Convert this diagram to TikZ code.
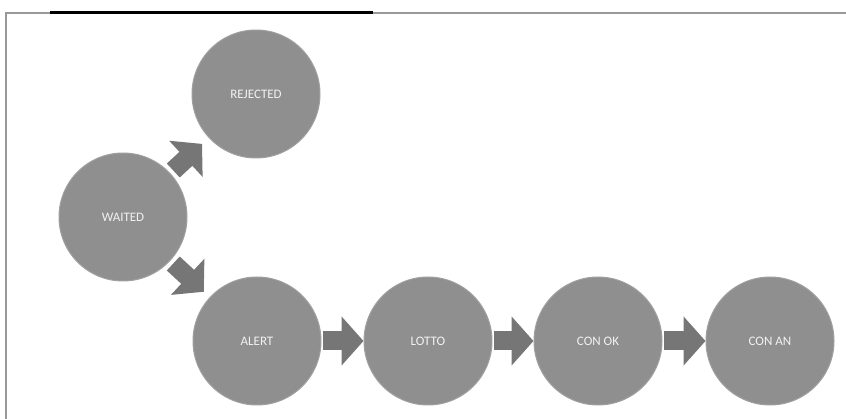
\documentclass[tikz,border=0pt]{standalone}
\usepackage{fontspec}
\setmainfont{Carlito}
\usetikzlibrary{arrows.meta}

\definecolor{ballgray}{HTML}{8F8F8F}
\definecolor{arrowgray}{HTML}{767676}

\tikzset{
    stage/.style={circle, fill=ballgray, draw=ballgray!85!white, line width=1pt,
        minimum size=128pt, inner sep=0pt, text=white!90!gray, font=\fontsize{13}{15}\selectfont},
    flow/.style={draw=arrowgray, line width=19pt, -{Triangle[width=48pt,length=22pt]}}
}

\begin{document}
\begin{tikzpicture}[x=1pt,y=-1pt]
    \useasboundingbox[fill=white] (0,0) rectangle (846,419);

    % frame
    \draw[gray!80, line width=1.2pt] (6,419) -- (6,13) -- (846,13);
    \draw[black, line width=2.2pt] (50,12.5) -- (373,12.5);

    % stages
    \node[stage] (waited) at (123,217) {WAITED};
    \node[stage] (rejected) at (256,94) {REJECTED};
    \node[stage] (alert) at (257,341) {ALERT};
    \node[stage] (lotto) at (428,341) {LOTTO};
    \node[stage] (conok) at (598,341) {CON OK};
    \node[stage] (conan) at (770,341) {CON AN};

    % arrows
    \draw[flow, shorten <=4pt, shorten >=9pt] (waited) -- (rejected);
    \draw[flow, shorten <=4pt, shorten >=8pt] (waited) -- (alert);
    \draw[flow, shorten <=1pt] (alert) -- (lotto);
    \draw[flow, shorten <=1pt] (lotto) -- (conok);
    \draw[flow, shorten <=1pt] (conok) -- (conan);
\end{tikzpicture}
\end{document}
